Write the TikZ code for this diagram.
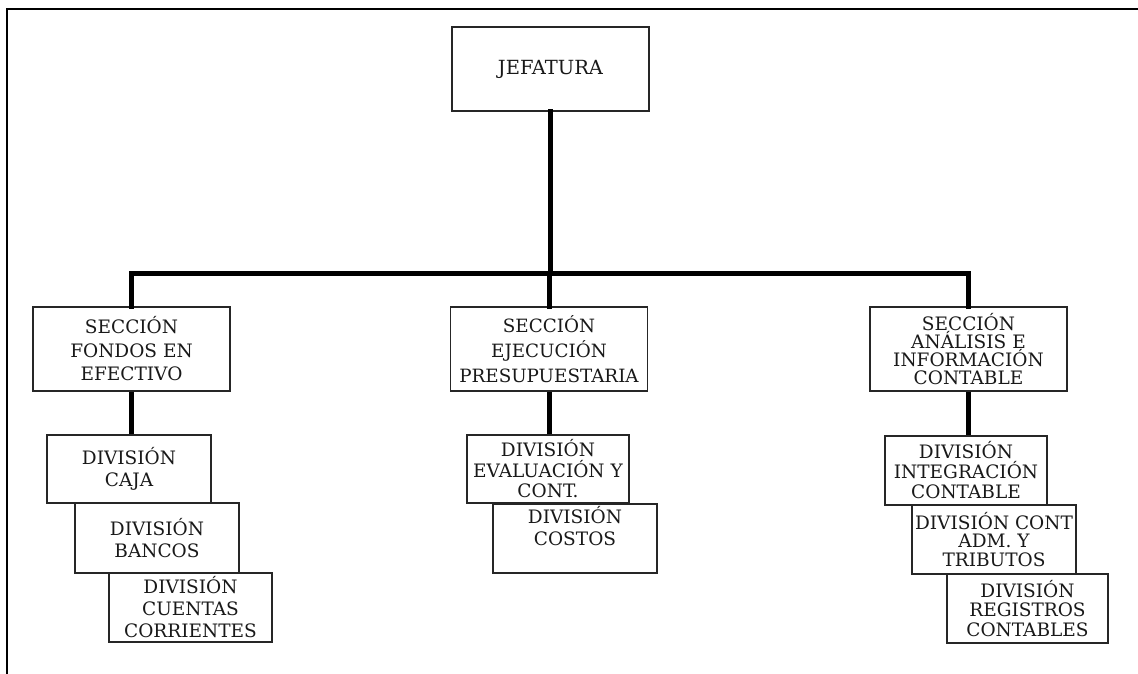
\documentclass[tikz,border=0pt]{standalone}
\usepackage{fontspec}
\setmainfont{DejaVu Serif}
\begin{document}
\begin{tikzpicture}[x=1pt,y=-1pt,
  box/.style={draw=black!85, line width=1.3pt, fill=white, align=center, inner sep=0pt,
    font=\fontsize{18.5}{22}\selectfont, text=black!90},
  conn/.style={line width=5pt, line join=miter, line cap=rect},
  frame/.style={line width=1.6pt}]
\useasboundingbox (0,0) rectangle (1138,674);
% frame
\coordinate (fA) at (7,674);
\coordinate (fB) at (7,9);
\coordinate (fC) at (1138,9);
\draw[frame] (fA) -- (fB) -- (fC);
% bus
\coordinate (bus) at (0,273);
% boxes
\node[box, minimum width=197pt, minimum height=84pt, font=\fontsize{19.5}{22}\selectfont] (jef) at (550.5,69) {JEFATURA};
\node[box, minimum width=197pt, minimum height=84pt, font=\fontsize{18.5}{23.5}\selectfont] (s1) at (131.5,349) {SECCIÓN\\FONDOS EN\\EFECTIVO};
\node[box, minimum width=197pt, minimum height=84pt, font=\fontsize{18.3}{25}\selectfont] (s2) at (549,349) {SECCIÓN\\EJECUCIÓN\\PRESUPUESTARIA};
\node[box, minimum width=197pt, minimum height=84pt, font=\fontsize{18.5}{18}\selectfont] (s3) at (968.5,349) {SECCIÓN\\ANÁLISIS E\\INFORMACIÓN\\CONTABLE};
% connectors top
\draw[conn] (jef.south) -- (jef.south |- bus);
\draw[conn] (s1.north) -- (s1.north |- bus) -- (s3.north |- bus) -- (s3.north);
\draw[conn] (s2.north |- bus) -- (s2.north);
% column 1
\node[box, minimum width=164pt, minimum height=68pt] (caja) at (129,469) {DIVISIÓN\\CAJA};
\node[box, minimum width=164pt, minimum height=70pt] (bancos) at (157,538) {DIVISIÓN\\BANCOS};
\node[box, minimum width=163pt, minimum height=69pt, font=\fontsize{18.5}{22}\selectfont] (cuentas) at (190.5,607.5) {DIVISIÓN\\CUENTAS\\CORRIENTES};
\draw[conn, line cap=butt] (s1.south) -- (s1.south |- caja.north);
% column 2
\node[box, minimum width=162pt, minimum height=68pt, font=\fontsize{18.5}{20.5}\selectfont] (eval) at (548,469) {DIVISIÓN\\EVALUACIÓN Y\\CONT.};
\node[box, minimum width=164pt, minimum height=69pt] (costos) at (575,538.5) {DIVISIÓN\\COSTOS\\[4pt]};
\draw[conn, line cap=butt] (eval.north -| s2.south) -- (s2.south);
% column 3
\node[box, minimum width=162pt, minimum height=69pt, font=\fontsize{18.5}{20}\selectfont] (integ) at (966,470.5) {DIVISIÓN\\INTEGRACIÓN\\CONTABLE};
\node[box, minimum width=164pt, minimum height=69pt, font=\fontsize{18.5}{18.5}\selectfont] (contadm) at (994,539.5) {DIVISIÓN CONT\\ADM. Y\\TRIBUTOS};
\node[box, minimum width=161pt, minimum height=69pt, font=\fontsize{18.5}{19.5}\selectfont] (regis) at (1027.5,608.5) {DIVISIÓN\\REGISTROS\\CONTABLES};
\draw[conn, line cap=butt] (s3.south) -- (s3.south |- integ.north);
\end{tikzpicture}
\end{document}
